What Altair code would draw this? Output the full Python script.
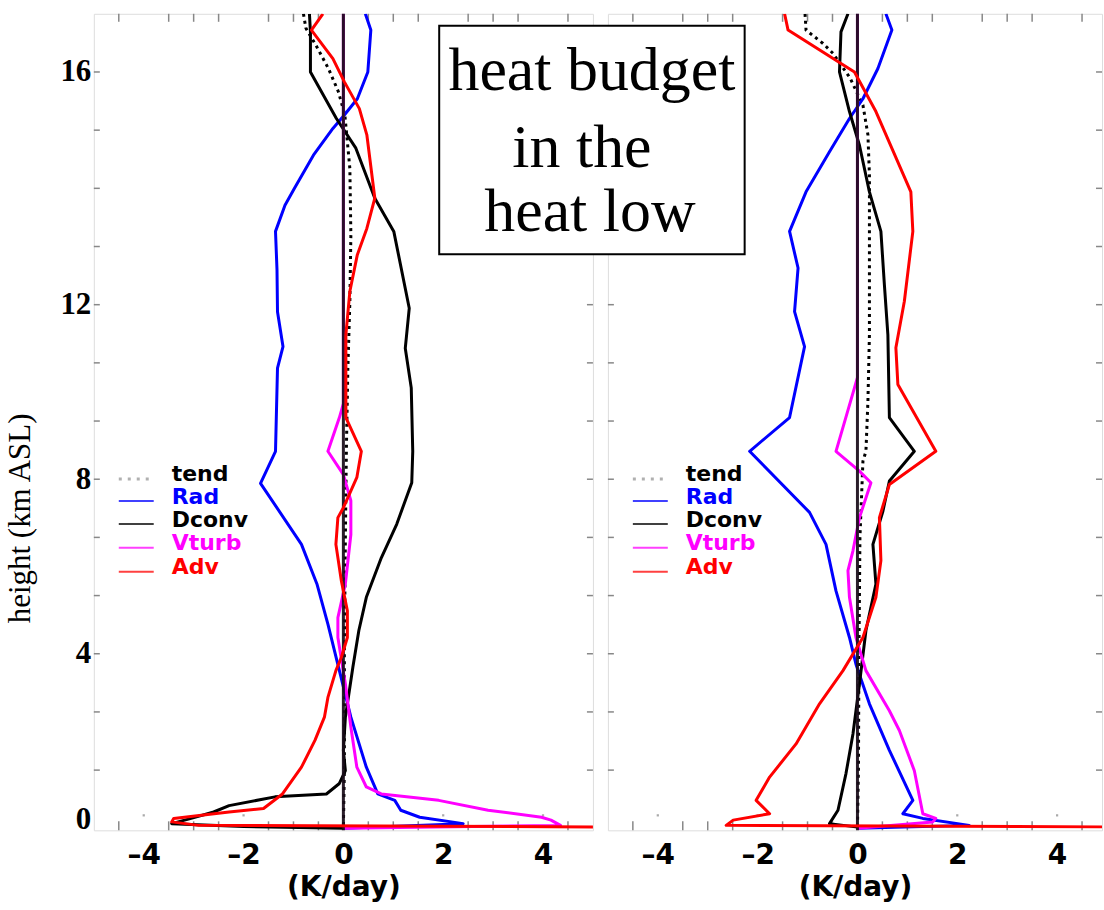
import altair as alt
import pandas as pd

# ---------------- data ----------------
# vertical coordinate: model level index 0..14 (labelled 0,4,8,12,16 km at levels 0,3,6,9,13)
# values in K/day

# left panel
L_TEND_LEV = [14.0, 13.75, 13.46, 13.06, 12.66, 12.26, 11.34, 10.2, 9.06, 7.91, 6.5, 5.0, 3.0, 1.0, 0.0]
L_TEND_VAL = [-0.8, -0.75, -0.55, -0.3, -0.1, 0.03, 0.13, 0.15, 0.13, 0.09, 0.06, 0.04, 0.02, 0.02, 0.0]

L_RAD_LEV = [14.0, 13.72, 13.0, 12.54, 12.26, 12.03, 11.57, 11.0, 10.71, 10.26, 9.6, 8.88, 8.28, 7.91,
             6.48, 5.93, 4.88, 4.20, 3.51, 2.71, 1.91, 1.05, 0.59, 0.48, 0.31, 0.19, 0.08, 0.0]
L_RAD_VAL = [0.44, 0.55, 0.49, 0.28, 0.02, -0.21, -0.60, -0.98, -1.17, -1.36, -1.33, -1.32, -1.21, -1.32,
             -1.36, -1.66, -0.84, -0.53, -0.31, -0.08, 0.15, 0.46, 0.69, 1.03, 1.15, 1.53, 2.40, 0.0]

L_DCONV_LEV = [14.0, 13.69, 13.0, 12.2, 11.69, 10.83, 10.26, 8.94, 8.25, 7.57, 6.48, 5.94, 5.23, 4.65,
               3.97, 3.40, 2.77, 1.91, 1.34, 0.99, 0.77, 0.59, 0.54, 0.39, 0.28, 0.17, 0.08, 0.03, 0.0]
L_DCONV_VAL = [-0.68, -0.66, -0.66, -0.14, 0.25, 0.63, 1.01, 1.32, 1.24, 1.36, 1.39, 1.37, 1.07, 0.76,
               0.46, 0.31, 0.19, 0.04, 0.0, 0.04, -0.08, -0.34, -1.37, -2.29, -2.60, -3.05, -3.44, -2.0, 0.0]

L_VTURB_LEV = [14.0, 7.3, 7.06, 6.48, 6.08, 5.63, 5.05, 4.2, 3.62, 3.28, 2.48, 1.74, 1.05, 0.71, 0.59,
               0.48, 0.31, 0.19, 0.14, 0.05, 0.0]
L_VTURB_VAL = [0.0, 0.0, -0.08, -0.31, 0.0, 0.15, 0.15, 0.04, -0.11, -0.11, 0.04, 0.15, 0.27, 0.46, 0.76,
               1.91, 2.90, 3.97, 4.16, 4.35, 0.0]

L_ADV_LEV = [14.0, 13.72, 13.23, 12.83, 12.37, 11.92, 10.83, 10.31, 9.86, 9.23, 8.48, 7.91, 7.06, 6.48,
             6.03, 5.8, 5.51, 5.34, 4.88, 4.25, 3.74, 3.28, 2.94, 2.71, 2.25, 1.91, 1.51, 1.05, 0.59,
             0.34, 0.28, 0.17, 0.11, 0.05, 0.0]
L_ADV_VAL = [-0.41, -0.64, -0.21, 0.02, 0.32, 0.47, 0.63, 0.47, 0.28, 0.13, 0.05, 0.05, 0.05, 0.36,
             0.27, 0.15, 0.0, -0.11, -0.15, -0.04, 0.08, 0.08, -0.04, -0.15, -0.31, -0.38, -0.57, -0.84, -1.22,
             -1.6, -2.29, -3.4, -3.44, -2.9, 12.0]

# right panel
R_TEND_LEV = [14.0, 13.72, 13.49, 13.32, 12.9, 12.43, 11.92, 11.23, 10.2, 8.48, 7.34, 6.48, 6.31, 5.0, 3.0, 1.0, 0.0]
R_TEND_VAL = [-1.05, -1.03, -0.69, -0.49, -0.15, 0.11, 0.21, 0.24, 0.24, 0.24, 0.21, 0.17, 0.11, 0.05, 0.03, 0.02, 0.0]

R_RAD_LEV = [14.0, 13.72, 13.06, 12.54, 12.2, 11.63, 10.94, 10.26, 9.63, 8.88, 8.28, 7.06, 6.48, 5.43,
             4.88, 4.08, 3.28, 2.82, 2.14, 1.34, 0.48, 0.25, 0.17, 0.05, 0.0]
R_RAD_VAL = [0.57, 0.69, 0.41, 0.11, -0.16, -0.56, -1.03, -1.36, -1.19, -1.26, -1.06, -1.36, -2.16, -0.96,
             -0.63, -0.43, -0.16, -0.03, 0.24, 0.64, 1.11, 0.91, 1.31, 2.24, 0.0]

R_DCONV_LEV = [14.0, 13.69, 13.0, 12.32, 11.74, 10.94, 10.26, 9.34, 8.48, 7.06, 6.48, 5.97, 5.45, 4.88,
               4.2, 3.4, 2.48, 1.62, 0.94, 0.31, 0.08, 0.02, 0.0]
R_DCONV_VAL = [-0.19, -0.33, -0.36, -0.16, 0.04, 0.24, 0.47, 0.54, 0.61, 0.64, 1.14, 0.64, 0.51, 0.31,
               0.37, 0.17, 0.04, -0.09, -0.23, -0.39, -0.56, 0.0, 0.0]

R_VTURB_LEV = [14.0, 7.75, 7.57, 6.48, 6.14, 5.94, 5.34, 4.77, 4.43, 3.97, 3.28, 2.71, 2.02, 1.68, 0.99,
               0.25, 0.17, 0.11, 0.0]
R_VTURB_VAL = [0.0, 0.0, -0.06, -0.43, 0.04, 0.27, 0.04, -0.09, -0.19, -0.16, -0.03, 0.17, 0.64, 0.84, 1.14,
               1.31, 1.57, 1.51, 0.0]

R_ADV_LEV = [14.0, 13.72, 13.0, 12.32, 10.94, 10.26, 9.06, 8.26, 7.63, 6.48, 5.91, 5.34, 4.6, 3.97, 3.28,
             2.71, 2.14, 1.45, 0.88, 0.48, 0.25, 0.14, 0.05, 0.0]
R_ADV_VAL = [-1.46, -1.39, -0.06, 0.37, 1.07, 1.11, 0.94, 0.77, 0.81, 1.57, 0.64, 0.44, 0.47, 0.37, 0.11,
             -0.29, -0.76, -1.23, -1.76, -2.03, -1.76, -2.49, -2.63, 12.0]

SERIES = ["tend", "Rad", "Dconv", "Vturb", "Adv"]
COLORS = ["#000000", "#0000ff", "#000000", "#ff00ff", "#ff0000"]

X_TICKS = [-4, -2, 0, 2, 4]
X_LABELS = ["\u20134", "\u20132", "0", "2", "4"]
Y_TICKS = [0, 3, 6, 9, 13]
Y_LABELS = ["0", "4", "8", "12", "16"]
X_MINOR = [-4.5, -3.5, -3, -2.5, -1.5, -1, -0.5, 0.5, 1, 1.5, 2.5, 3, 3.5, 4.5]
X_DOTS = [-4, -2, 2, 4]
Y_MINOR = list(range(1, 14))

BOX_LINES = ["heat budget", "in the", "heat low"]

# ---------------- layout ----------------
H = 818
W_L = 500
W_R = 495
Y_DOM = [-0.035, 14]


def label_expr(vals, labels):
    expr = "''"
    for v, l in zip(vals, labels):
        expr = f"datum.value == {v} ? '{l}' : ({expr})"
    return expr


def df(lev, val):
    return pd.DataFrame({"level": lev, "value": val, "i": list(range(len(lev)))})


def make_panel(data, xdom, width, left, box=False):
    xs = alt.Scale(domain=xdom, nice=False, zero=False)
    ys = alt.Scale(domain=Y_DOM, nice=False, zero=False)
    xaxis = alt.Axis(values=X_TICKS, labelExpr=label_expr(X_TICKS, X_LABELS), title="(K/day)",
                     grid=False, ticks=False, domain=False, labelOverlap=False, labelFlush=False,
                     labelFont="DejaVu Sans", labelFontWeight="bold", labelFontSize=28, labelColor="black",
                     labelPadding=11, titleFont="DejaVu Sans", titleFontWeight="bold", titleFontSize=28,
                     titleColor="black", titlePadding=4)
    if left:
        yaxis = alt.Axis(values=Y_TICKS, labelExpr=label_expr(Y_TICKS, Y_LABELS), title="height (km ASL)",
                         grid=False, ticks=False, domain=False, labelOverlap=False, labelFlush=False,
                         labelFont="Liberation Serif", labelFontWeight="bold", labelFontSize=31,
                         labelColor="black", labelPadding=3,
                         labelBaseline={"condition": {"test": "datum.value == 0", "value": "alphabetic"},
                                        "value": "middle"},
                         titleFont="Liberation Serif", titleFontWeight="normal", titleFontSize=31,
                         titleColor="black", titleX=-64, titleY=505, titleAngle=270, titleAlign="center",
                         titleBaseline="alphabetic")
    else:
        yaxis = None

    def X():
        return alt.X("value:Q", scale=xs, axis=xaxis)

    def Y():
        return alt.Y("level:Q", scale=ys, axis=yaxis)

    layers = []
    xt = pd.DataFrame({"value": X_MINOR})
    yt = pd.DataFrame({"level": Y_MINOR})
    xd = pd.DataFrame({"value": X_DOTS})
    tick_color = "#888888"
    layers.append(alt.Chart(xt).mark_rule(color=tick_color, strokeWidth=1.5).encode(
        x=X(), y=alt.value(H), y2=alt.value(H - 9)))
    layers.append(alt.Chart(xt).mark_rule(color=tick_color, strokeWidth=1.5).encode(
        x=X(), y=alt.value(0), y2=alt.value(8)))
    layers.append(alt.Chart(xd).mark_square(color="#aaaaaa", size=5, opacity=1).encode(
        x=X(), y=alt.value(H - 15)))
    layers.append(alt.Chart(yt).mark_rule(color=tick_color, strokeWidth=1.5).encode(
        y=Y(), x=alt.value(0), x2=alt.value(6)))
    layers.append(alt.Chart(yt).mark_rule(color=tick_color, strokeWidth=1.5).encode(
        y=Y(), x=alt.value(width), x2=alt.value(width - 6)))

    tend, rad, dconv, vturb, adv = data
    layers.append(alt.Chart(tend).mark_line(color="black", strokeWidth=3, strokeDash=[3, 4], clip=True).encode(
        x=X(), y=Y(), order="i:Q"))
    for d, c in [(rad, COLORS[1]), (dconv, COLORS[2]), (vturb, COLORS[3])]:
        layers.append(alt.Chart(d).mark_line(color=c, strokeWidth=3, clip=True, strokeJoin="round").encode(
            x=X(), y=Y(), order="i:Q"))
    layers.append(alt.Chart(pd.DataFrame({"value": [0]})).mark_rule(
        color="#1a0d1a", strokeWidth=3, opacity=0.93).encode(x=X()))
    layers.append(alt.Chart(adv).mark_line(color=COLORS[4], strokeWidth=3, clip=True, strokeJoin="round").encode(
        x=X(), y=Y(), order="i:Q"))

    # legend
    sample_y = [466, 488, 511, 535, 559]
    text_y = [468, 491, 514, 537, 561]
    one = pd.DataFrame({"a": [0]})
    for k, (name, col) in enumerate(zip(SERIES, COLORS)):
        if name == "tend":
            m = alt.Chart(one).mark_rule(color="#b0b0b0", strokeWidth=3, strokeDash=[3, 6])
        else:
            m = alt.Chart(one).mark_rule(color=col, strokeWidth=2, opacity=0.75)
        layers.append(m.encode(x=alt.value(25), x2=alt.value(60), y=alt.value(sample_y[k])))
        layers.append(alt.Chart(one).mark_text(text=name, font="DejaVu Sans", fontWeight="bold", fontSize=22,
                                               color=col, align="left", baseline="alphabetic").encode(
            x=alt.value(78), y=alt.value(text_y[k])))

    if left:
        layers.append(alt.Chart(one).mark_rule(strokeWidth=0.01, opacity=0).encode(
            x=alt.value(-93), x2=alt.value(-93), y=alt.value(-12), y2=alt.value(H + 80)))
    else:
        layers.append(alt.Chart(one).mark_rule(strokeWidth=0.01, opacity=0).encode(
            x=alt.value(width + 1), x2=alt.value(width + 1), y=alt.value(-12), y2=alt.value(H + 80)))

    if box:
        layers.append(alt.Chart(one).mark_rect(fill="white", stroke="black", strokeWidth=2).encode(
            x=alt.value(-169), x2=alt.value(137), y=alt.value(12), y2=alt.value(241)))
        bx = [-16, -26, -18]
        by = [76, 153, 218]
        for k, line in enumerate(BOX_LINES):
            layers.append(alt.Chart(one).mark_text(text=line, font="Liberation Serif", fontSize=62,
                                                   color="black", align="center", baseline="alphabetic").encode(
                x=alt.value(bx[k]), y=alt.value(by[k])))

    return alt.layer(*layers).properties(width=width, height=H)


left = make_panel([df(L_TEND_LEV, L_TEND_VAL), df(L_RAD_LEV, L_RAD_VAL), df(L_DCONV_LEV, L_DCONV_VAL),
                   df(L_VTURB_LEV, L_VTURB_VAL), df(L_ADV_LEV, L_ADV_VAL)], [-5, 5], W_L, True)
right = make_panel([df(R_TEND_LEV, R_TEND_VAL), df(R_RAD_LEV, R_RAD_VAL), df(R_DCONV_LEV, R_DCONV_VAL),
                    df(R_VTURB_LEV, R_VTURB_VAL), df(R_ADV_LEV, R_ADV_VAL)], [-5, 4.9], W_R, False, box=True)

chart = alt.hconcat(left, right, spacing=15, bounds="flush").properties(
    padding=0
).configure_view(stroke="#777777", strokeWidth=1.5).configure(background="white")

chart.save("out.html", embed_options={"renderer": "svg", "actions": False})
